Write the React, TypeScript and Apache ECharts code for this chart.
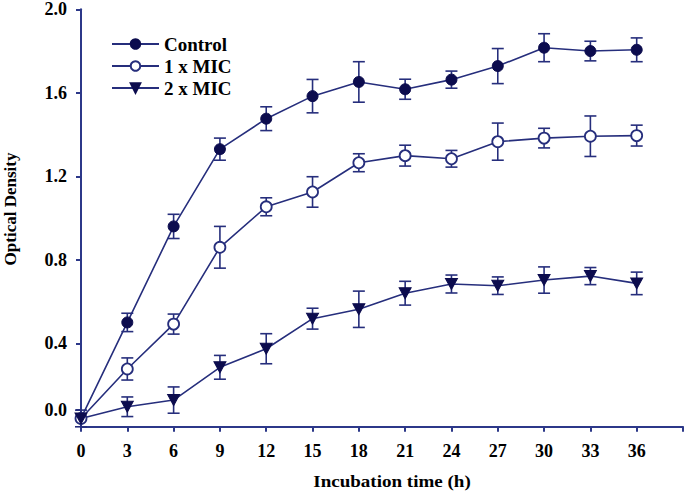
import React, { useEffect, useRef } from "react";
import * as echarts from "echarts";

const times = [0, 3, 6, 9, 12, 15, 18, 21, 24, 27, 30, 33, 36];
const controlMean = [0.04, 0.5, 0.96, 1.33, 1.476, 1.584, 1.652, 1.617, 1.663, 1.728, 1.816, 1.8, 1.806];
const controlErr = [0.04, 0.044, 0.058, 0.053, 0.057, 0.08, 0.097, 0.048, 0.041, 0.084, 0.067, 0.047, 0.057];
const mic1Mean = [0.04, 0.277, 0.492, 0.86, 1.054, 1.125, 1.265, 1.299, 1.284, 1.366, 1.383, 1.392, 1.395];
const mic1Err = [0, 0.053, 0.048, 0.1, 0.043, 0.073, 0.043, 0.05, 0.04, 0.089, 0.047, 0.097, 0.05];
const mic2Mean = [0.04, 0.096, 0.128, 0.285, 0.374, 0.518, 0.563, 0.64, 0.684, 0.676, 0.703, 0.722, 0.687];
const mic2Err = [0, 0.047, 0.063, 0.057, 0.072, 0.05, 0.087, 0.057, 0.043, 0.042, 0.063, 0.041, 0.054];

const seriesNames = ["Control", "1 x MIC", "2 x MIC"];
const yTickPositions = [0.08, 0.4, 0.8, 1.2, 1.6, 2.0];
const yTickLabels = ["0.0", "0.4", "0.8", "1.2", "1.6", "2.0"];
const xTickHidden = [39];

const FONT = "'Liberation Serif', 'Times New Roman', serif";
const AXIS = "#2c3889";
const LINE = "#262e7c";
const MARK = "#0c0c4e";

function errorSeries(mean: number[], err: number[]) {
  return {
    type: "custom",
    silent: true,
    z: 1,
    data: times.map((t, i) => [t, mean[i], err[i]]),
    renderItem: (params: any, api: any) => {
      const x = api.value(0);
      const y = api.value(1);
      const e = api.value(2);
      if (!e) return null;
      const top = api.coord([x, y + e]);
      const bot = api.coord([x, y - e]);
      const hw = 6;
      const style = { stroke: LINE, lineWidth: 1.6 };
      return {
        type: "group",
        children: [
          { type: "line", shape: { x1: top[0], y1: top[1], x2: bot[0], y2: bot[1] }, style },
          { type: "line", shape: { x1: top[0] - hw, y1: top[1], x2: top[0] + hw, y2: top[1] }, style },
          { type: "line", shape: { x1: bot[0] - hw, y1: bot[1], x2: bot[0] + hw, y2: bot[1] }, style },
        ],
      };
    },
  };
}

export default function App() {
  const ref = useRef<HTMLDivElement>(null);
  useEffect(() => {
    if (!ref.current) return;
    const chart = echarts.init(ref.current, null, { renderer: "svg" });
    chart.setOption({
      animation: false,
      backgroundColor: "#ffffff",
      grid: { left: 81, right: 5, top: 9.3, bottom: 66.2 },
      legend: {
        data: seriesNames,
        orient: "vertical",
        left: 106,
        top: 29,
        itemWidth: 47,
        itemHeight: 12,
        itemGap: 2,
        textStyle: { fontFamily: FONT, fontWeight: "bold", fontSize: 19, color: "#000", lineHeight: 20 },
      },
      xAxis: {
        type: "value",
        min: 0,
        max: 39,
        interval: 3,
        splitLine: { show: false },
        axisLine: { lineStyle: { color: AXIS, width: 2 } },
        axisTick: { show: true, length: 5, lineStyle: { color: AXIS, width: 2 } },
        axisLabel: {
          margin: 15,
          fontFamily: FONT,
          fontWeight: "bold",
          fontSize: 18,
          color: "#000",
          formatter: (v: number) => (xTickHidden.includes(v) ? "" : String(v)),
        },
      },
      yAxis: {
        type: "value",
        min: 0,
        max: 2.0,
        splitLine: { show: false },
        axisLine: { show: true, lineStyle: { color: AXIS, width: 2 } },
        axisTick: { show: true, length: 5, customValues: yTickPositions, lineStyle: { color: AXIS, width: 2 } },
        axisLabel: {
          margin: 14,
          fontFamily: FONT,
          fontWeight: "bold",
          fontSize: 18,
          color: "#000",
          customValues: yTickPositions,
          formatter: (v: number) => {
            const i = yTickPositions.findIndex((p) => Math.abs(p - v) < 1e-6);
            return i >= 0 ? yTickLabels[i] : "";
          },
        },
      },
      graphic: [
        {
          type: "text",
          x: 392,
          y: 481,
          style: {
            text: "Incubation time (h)",
            fontFamily: FONT,
            fontWeight: "bold",
            fontSize: 17,
            fill: "#000",
            align: "center",
            verticalAlign: "middle",
          },
          scaleX: 1.12,
        },
        {
          type: "text",
          x: 10.5,
          y: 209,
          rotation: Math.PI / 2,
          style: {
            text: "Optical Density",
            fontFamily: FONT,
            fontWeight: "bold",
            fontSize: 17,
            fill: "#000",
            align: "center",
            verticalAlign: "middle",
          },
        },
      ],
      series: [
        errorSeries(controlMean, controlErr),
        errorSeries(mic1Mean, mic1Err),
        errorSeries(mic2Mean, mic2Err),
        {
          name: seriesNames[0],
          type: "line",
          z: 3,
          data: times.map((t, i) => [t, controlMean[i]]),
          symbol: "circle",
          symbolSize: 11,
          lineStyle: { color: LINE, width: 1.6 },
          itemStyle: { color: MARK, borderColor: MARK, borderWidth: 1 },
        },
        {
          name: seriesNames[1],
          type: "line",
          z: 3,
          data: times.map((t, i) => [t, mic1Mean[i]]),
          symbol: "circle",
          symbolSize: 11,
          lineStyle: { color: LINE, width: 1.6 },
          itemStyle: { color: "#ffffff", borderColor: LINE, borderWidth: 1.8 },
        },
        {
          name: seriesNames[2],
          type: "line",
          z: 3,
          data: times.map((t, i) => [t, mic2Mean[i]]),
          symbol: "triangle",
          symbolRotate: 180,
          symbolSize: [12, 11],
          lineStyle: { color: LINE, width: 1.6 },
          itemStyle: { color: MARK, borderColor: MARK, borderWidth: 1 },
        },
      ],
    });
    return () => chart.dispose();
  }, []);
  return <div ref={ref} style={{ width: 688, height: 493, position: "absolute", left: 0, top: 0 }} />;
}
